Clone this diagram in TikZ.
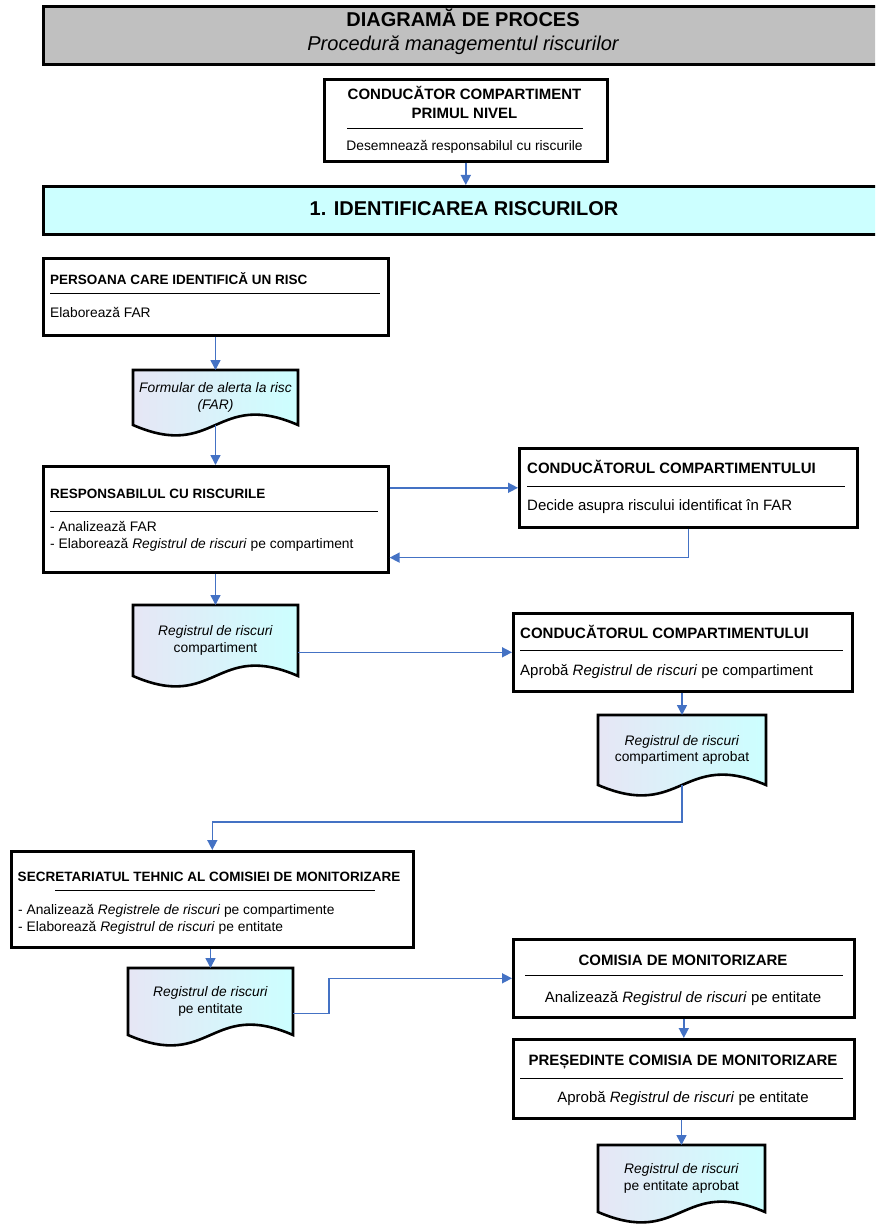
\documentclass[tikz,border=0pt]{standalone}
\usepackage{fontspec}
\setmainfont{Liberation Sans}
\usetikzlibrary{arrows.meta,calc}
\definecolor{arr}{RGB}{68,114,196}
\definecolor{titlegray}{RGB}{192,192,192}
\definecolor{cyanfill}{RGB}{204,255,255}
\definecolor{docL}{RGB}{230,230,245}
\definecolor{docR}{RGB}{204,255,255}
\newcommand{\docpath}[1]{%
  \path[draw=black, line width=2.6pt, left color=docL, right color=docR]
  (#1.north west) -- (#1.north east) -- (#1.south east)
  .. controls ($(#1.south)+(0,-36)$) and ($(#1.south)+(0,36)$) .. (#1.south west) -- cycle;}
\tikzset{
  box/.style={draw=black, line width=2.6pt, fill=white, rectangle, inner sep=0pt, anchor=north west},
  docframe/.style={rectangle, inner sep=0pt, outer sep=0pt, anchor=north west},
  sepline/.style={line width=0.8pt},
  conn/.style={draw=arr, line width=1.5pt, -{Triangle[length=10pt,width=10pt]}},
  tsmall/.style={font=\fontsize{13.5}{16}\selectfont\bfseries, inner sep=0pt},
  tbig/.style={font=\fontsize{15}{18}\selectfont\bfseries, inner sep=0pt},
  bsmall/.style={font=\fontsize{13.8}{16}\selectfont, inner sep=0pt},
  bbig/.style={font=\fontsize{15}{18}\selectfont, inner sep=0pt},
  doctext/.style={font=\fontsize{13.8}{16.5}\selectfont, align=center, inner sep=0pt},
}
\begin{document}
\begin{tikzpicture}[x=1pt,y=-1pt]
\useasboundingbox (0,0) rectangle (875,1230);
\clip (0,0) rectangle (875,1230);

% title
\node[box, fill=titlegray, minimum width=860pt, minimum height=58pt] (title) at (42,5) {};
\node[font=\fontsize{20}{24}\selectfont\bfseries, anchor=base, inner sep=0pt] (t1) at (463,27) {DIAGRAMĂ DE PROCES};
\node[font=\fontsize{20}{24}\selectfont\itshape, anchor=base, inner sep=0pt] (t2) at (463,51) {Procedură managementul riscurilor};

% top box
\node[box, minimum width=283pt, minimum height=82pt] (top) at (323,78) {};
\node[tbig, anchor=base] (top1) at (464.5,99.5) {CONDUCĂTOR COMPARTIMENT};
\node[tbig, anchor=base] (top2) at (464.5,118.5) {PRIMUL NIVEL};
\draw[sepline] (347,128) -- (583,128);
\node[bsmall, anchor=base] (top3) at (464.5,151) {Desemnează responsabilul cu riscurile};

% identificarea
\node[box, fill=cyanfill, minimum width=860pt, minimum height=48pt] (ident) at (42,185) {};
\node[font=\fontsize{20}{24}\selectfont\bfseries, anchor=base, inner sep=0pt] (ident1) at (464,216) {1. IDENTIFICAREA RISCURILOR};

% persoana
\node[box, minimum width=345pt, minimum height=77pt] (pers) at (42,257) {};
\node[tsmall, anchor=base west] (pers1) at (50,285) {PERSOANA CARE IDENTIFICĂ UN RISC};
\draw[sepline] (50,293) -- (380,293);
\node[bsmall, anchor=base west] (pers2) at (50,317) {Elaborează FAR};

% FAR doc
\node[docframe, minimum width=165pt, minimum height=55pt] (far) at (133,370) {};
\docpath{far}
\node[doctext] (fart) at (far.center) {\itshape Formular de alerta la risc\\\itshape (FAR)};

% responsabil
\node[box, minimum width=345pt, minimum height=106pt] (resp) at (42,465) {};
\node[tsmall, anchor=base west] (resp1) at (50,498) {RESPONSABILUL CU RISCURILE};
\draw[sepline] (50,511) -- (378,511);
\node[bsmall, anchor=base west] (resp2) at (50,531) {- Analizează FAR};
\node[bsmall, anchor=base west] (resp3) at (50,548) {- Elaborează \textit{Registrul de riscuri} pe compartiment};

% conducatorul 1
\node[box, minimum width=338pt, minimum height=79pt] (cond1) at (518,447) {};
\node[tbig, anchor=base west] (cond1a) at (527,473.5) {CONDUCĂTORUL COMPARTIMENTULUI};
\draw[sepline] (527,486) -- (845,486);
\node[bbig, anchor=base west] (cond1b) at (527,510.5) {Decide asupra riscului identificat în FAR};

% registru compartiment
\node[docframe, minimum width=165pt, minimum height=71pt] (reg1) at (133,605) {};
\docpath{reg1}
\node[doctext] (reg1t) at (reg1.center) {\textit{Registrul de riscuri}\\compartiment};

% conducatorul 2
\node[box, minimum width=339pt, minimum height=78pt] (cond2) at (512,612) {};
\node[tbig, anchor=base west] (cond2a) at (520,638.5) {CONDUCĂTORUL COMPARTIMENTULUI};
\draw[sepline] (520,650) -- (843,650);
\node[bbig, anchor=base west] (cond2b) at (520,675.5) {Aprobă \textit{Registrul de riscuri} pe compartiment};

% registru compartiment aprobat
\node[docframe, minimum width=168pt, minimum height=70pt] (reg2) at (598,715) {};
\docpath{reg2}
\node[doctext] (reg2t) at (reg2.center) {\textit{Registrul de riscuri}\\compartiment aprobat};

% secretariat
\node[box, minimum width=402pt, minimum height=96pt] (sec) at (10,850) {};
\node[tsmall, anchor=base] (sec1) at (209,881) {SECRETARIATUL TEHNIC AL COMISIEI DE MONITORIZARE};
\draw[sepline] (55,890) -- (375,890);
\node[bsmall, anchor=base west] (sec2) at (18,914) {- Analizează \textit{Registrele de riscuri} pe compartimente};
\node[bsmall, anchor=base west] (sec3) at (18,931) {- Elaborează \textit{Registrul de riscuri} pe entitate};

% registru entitate
\node[docframe, minimum width=165pt, minimum height=67pt] (reg3) at (128,968) {};
\docpath{reg3}
\node[doctext] (reg3t) at (reg3.center) {\textit{Registrul de riscuri}\\pe entitate};

% comisia
\node[box, minimum width=341pt, minimum height=78pt] (com) at (512,938) {};
\node[tbig, anchor=base] (com1) at (683,965.5) {COMISIA DE MONITORIZARE};
\draw[sepline] (525,975) -- (843,975);
\node[bbig, anchor=base] (com2) at (683,1002.5) {Analizează \textit{Registrul de riscuri} pe entitate};

% presedinte
\node[box, minimum width=341pt, minimum height=79pt] (pres) at (512,1038) {};
\node[tbig, anchor=base] (pres1) at (683,1065.5) {PREȘEDINTE COMISIA DE MONITORIZARE};
\draw[sepline] (520,1078) -- (843,1078);
\node[bbig, anchor=base] (pres2) at (683,1102.5) {Aprobă \textit{Registrul de riscuri} pe entitate};

% registru entitate aprobat
\node[docframe, minimum width=167pt, minimum height=67pt] (reg4) at (598,1145) {};
\docpath{reg4}
\node[doctext] (reg4t) at (reg4.center) {\textit{Registrul de riscuri}\\pe entitate aprobat};

% connectors
\draw[conn] (top.south) -- (top.south |- ident.north);
\draw[conn] (far.north |- pers.south) -- (far.north);
\draw[conn] (far.south) -- (far.south |- resp.north);
\draw[conn] (cond1.west -| resp.east) -- (cond1.west);
\draw[conn] (cond1.south) |- ($(resp.south east)+(0,-16)$);
\draw[conn] (reg1.north |- resp.south) -- (reg1.north);
\draw[conn] (reg1.east |- cond2.west) -- (cond2.west);
\draw[conn] (reg2.north |- cond2.south) -- (reg2.north);
\draw[conn] (reg2.south) |- ($(sec.north)+(0,-28)$) -- (sec.north);
\draw[conn] (reg3.north |- sec.south) -- (reg3.north);
\draw[conn] ($(reg3.east)+(0,12)$) -- ++(36,0) |- (com.west);
\draw[conn] (com.south) -- (pres.north);
\draw[conn] (reg4.north |- pres.south) -- (reg4.north);
\end{tikzpicture}
\end{document}
